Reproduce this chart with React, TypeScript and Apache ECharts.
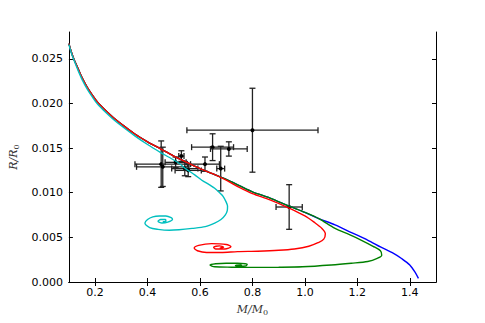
import React, { useEffect, useRef } from "react";
import * as echarts from "echarts";

// Shared low-mass trunk of the mass-radius relations [M/M0, R/R0]
const trunk: number[][] = [
  [0.10, 0.0267], [0.11, 0.0257], [0.12, 0.0249], [0.135, 0.0239], [0.15, 0.0229],
  [0.17, 0.0218], [0.19, 0.0209], [0.21, 0.0201], [0.24, 0.0192], [0.27, 0.0184],
  [0.30, 0.0177], [0.35, 0.0166], [0.40, 0.0157], [0.45, 0.0149], [0.50, 0.0141],
  [0.55, 0.0134], [0.60, 0.0127],
];
const highTrunk: number[][] = [
  [0.65, 0.0121], [0.70, 0.0115], [0.75, 0.0108], [0.80, 0.0101], [0.867, 0.0094],
  [0.94, 0.0085], [1.00, 0.0078], [1.053, 0.0071],
];
const blueTail: number[][] = [
  [1.115, 0.0064], [1.18, 0.0055], [1.239, 0.0047], [1.29, 0.0039], [1.338, 0.0032],
  [1.37, 0.0026], [1.40, 0.0019], [1.42, 0.0011], [1.433, 0.0004],
];
const greenTail: number[][] = [
  [1.115, 0.0060], [1.17, 0.0053], [1.214, 0.0047], [1.26, 0.0040], [1.288, 0.0035],
  [1.293, 0.0030], [1.276, 0.00265], [1.24, 0.0023], [1.177, 0.0021], [1.10, 0.0019],
  [0.991, 0.0017], [0.90, 0.00165], [0.805, 0.00164], [0.72, 0.00166], [0.656, 0.0017],
  [0.638, 0.0019], [0.66, 0.00205], [0.70, 0.0021], [0.743, 0.0021], [0.78, 0.00198],
  [0.775, 0.0018], [0.75, 0.00176], [0.735, 0.00185], [0.756, 0.0019], [0.76, 0.00185],
];
const redTail: number[][] = [
  [0.65, 0.0121], [0.70, 0.0114], [0.75, 0.0106], [0.80, 0.0099], [0.867, 0.0092],
  [0.942, 0.00825], [1.00, 0.0074], [1.035, 0.0067], [1.065, 0.0060], [1.078, 0.0054],
  [1.072, 0.0048], [1.05, 0.0044], [1.015, 0.0040], [0.96, 0.0037], [0.90, 0.00355],
  [0.82, 0.00345], [0.743, 0.0034], [0.68, 0.0033], [0.625, 0.0033], [0.59, 0.0035],
  [0.578, 0.0038], [0.595, 0.0041], [0.644, 0.0043], [0.70, 0.0042], [0.718, 0.00395],
  [0.695, 0.0037], [0.66, 0.0037], [0.652, 0.0039], [0.675, 0.00405], [0.69, 0.0039],
  [0.675, 0.0038],
];
const cyanCurve: number[][] = [
  [0.10, 0.0266], [0.11, 0.0256], [0.12, 0.0248], [0.135, 0.0237], [0.15, 0.0227],
  [0.17, 0.0216], [0.19, 0.0207], [0.21, 0.0199], [0.24, 0.0190], [0.27, 0.0182],
  [0.30, 0.0175], [0.35, 0.0164], [0.40, 0.0154], [0.45, 0.0145], [0.48, 0.0140],
  [0.52, 0.0133], [0.545, 0.0127], [0.58, 0.0120], [0.607, 0.0114], [0.635, 0.0109],
  [0.656, 0.0105], [0.675, 0.0100], [0.688, 0.0096], [0.699, 0.0090], [0.705, 0.0085],
  [0.704, 0.0080], [0.696, 0.0075], [0.68, 0.0070], [0.656, 0.0066], [0.62, 0.0062],
  [0.57, 0.0060], [0.52, 0.00585], [0.483, 0.0058], [0.44, 0.0059], [0.408, 0.0061],
  [0.39, 0.0066], [0.40, 0.0070], [0.42, 0.0073], [0.445, 0.0074], [0.47, 0.0074],
  [0.49, 0.0072], [0.495, 0.0070], [0.477, 0.0067], [0.455, 0.0066], [0.44, 0.0068],
  [0.45, 0.0070], [0.468, 0.0070], [0.47, 0.0068], [0.458, 0.00675],
];

// Observations with error bars
const obsM = [0.452, 0.458, 0.507, 0.529, 0.542, 0.555, 0.619, 0.679, 0.648, 0.710, 0.80, 0.94];
const obsR = [0.0132, 0.0129, 0.0134, 0.0141, 0.0127, 0.0125, 0.0132, 0.0127, 0.0151, 0.0149, 0.0170, 0.0084];
const obsMErr = [0.10, 0.10, 0.04, 0.01, 0.05, 0.05, 0.055, 0.015, 0.08, 0.07, 0.25, 0.05];
const obsRErr = [0.0026, 0.0022, 0.0006, 0.0006, 0.0008, 0.0007, 0.0008, 0.0025, 0.0015, 0.0008, 0.0047, 0.0025];

const xTicks = [0.2, 0.4, 0.6, 0.8, 1.0, 1.2, 1.4];
const yTicks = [0, 0.005, 0.01, 0.015, 0.02, 0.025];

const FONT = "DejaVu Sans";

export default function App() {
  const ref = useRef<HTMLDivElement>(null);
  useEffect(() => {
    if (!ref.current) return;
    const chart = echarts.init(ref.current, undefined, { renderer: "svg" });
    const axisLine = { show: true, lineStyle: { color: "#000", width: 1 } };
    const tick = { inside: true, length: 4, lineStyle: { color: "#000", width: 1 } };
    const lbl = { color: "#000", fontFamily: FONT, fontSize: 11 };
    const obs = obsM.map((m, i) => [m, obsR[i], obsMErr[i], obsRErr[i]]);
    const lineSeries = (data: number[][], color: string, z: number) => ({
      type: "line",
      data,
      showSymbol: false,
      smooth: 0.3,
      lineStyle: { color, width: 1.4 },
      z,
      silent: true,
    });
    const rich = {
      i: { fontFamily: "DejaVu Serif", fontStyle: "italic", fontSize: 11, color: "#333" },
      n: { fontFamily: "DejaVu Serif", fontStyle: "italic", fontSize: 11, color: "#333" },
      s: { fontFamily: "DejaVu Serif", fontSize: 8, color: "#333", padding: [6, 0, 0, 0] },
    };
    chart.setOption({
      animation: false,
      grid: { left: 61, right: 49, top: 32, bottom: 41 },
      xAxis: [
        {
          type: "value", min: 0.1, max: 1.5, position: "bottom",
          axisLine, splitLine: { show: false },
          axisTick: { ...tick, customValues: xTicks },
          axisLabel: { ...lbl, margin: 5, customValues: xTicks, formatter: (v: number) => v.toFixed(1) },
          name: "{i|M}{n|/}{i|M}{s|0}",
          nameLocation: "middle", nameGap: 20,
          nameTextStyle: { rich },
        },
        {
          type: "value", min: 0.1, max: 1.5, position: "top",
          axisLine, splitLine: { show: false },
          axisTick: { ...tick, customValues: xTicks },
          axisLabel: { show: false },
        },
      ],
      yAxis: [
        {
          type: "value", min: 0, max: 0.028, position: "left",
          axisLine, splitLine: { show: false },
          axisTick: { ...tick, customValues: yTicks },
          axisLabel: { ...lbl, margin: 6, customValues: yTicks, formatter: (v: number) => v.toFixed(3) },
          name: "{i|R}{n|/}{i|R}{s|0}",
          nameLocation: "middle", nameGap: 42, nameRotate: 90,
          nameTextStyle: { rich },
        },
        {
          type: "value", min: 0, max: 0.028, position: "right",
          axisLine, splitLine: { show: false },
          axisTick: { ...tick, customValues: yTicks },
          axisLabel: { show: false },
        },
      ],
      series: [
        {
          type: "custom",
          data: obs,
          encode: { x: 0, y: 1 },
          z: 1,
          silent: true,
          renderItem: (_p: any, api: any) => {
            const x = api.value(0), y = api.value(1), xe = api.value(2), ye = api.value(3);
            const c = api.coord([x, y]);
            const l = api.coord([x - xe, y]);
            const r = api.coord([x + xe, y]);
            const t = api.coord([x, y + ye]);
            const b = api.coord([x, y - ye]);
            const cap = 3;
            const st = { stroke: "#222", lineWidth: 1.3 };
            const ln = (x1: number, y1: number, x2: number, y2: number) => ({
              type: "line", shape: { x1, y1, x2, y2 }, style: st,
            });
            return {
              type: "group",
              children: [
                ln(l[0], l[1], r[0], r[1]),
                ln(t[0], t[1], b[0], b[1]),
                ln(l[0], l[1] - cap, l[0], l[1] + cap),
                ln(r[0], r[1] - cap, r[0], r[1] + cap),
                ln(t[0] - cap, t[1], t[0] + cap, t[1]),
                ln(b[0] - cap, b[1], b[0] + cap, b[1]),
                { type: "circle", shape: { cx: c[0], cy: c[1], r: 2 }, style: { fill: "#000" } },
              ],
            };
          },
        },
        lineSeries([...trunk, ...highTrunk, ...blueTail], "#0000ff", 2),
        lineSeries([...trunk, ...highTrunk, ...greenTail], "#008000", 3),
        lineSeries([...trunk, ...redTail], "#ff0000", 4),
        lineSeries(cyanCurve, "#00bfbf", 5),
      ],
    });
    return () => chart.dispose();
  }, []);
  return <div ref={ref} style={{ width: 485, height: 323, position: "absolute", left: 0, top: 0 }} />;
}
